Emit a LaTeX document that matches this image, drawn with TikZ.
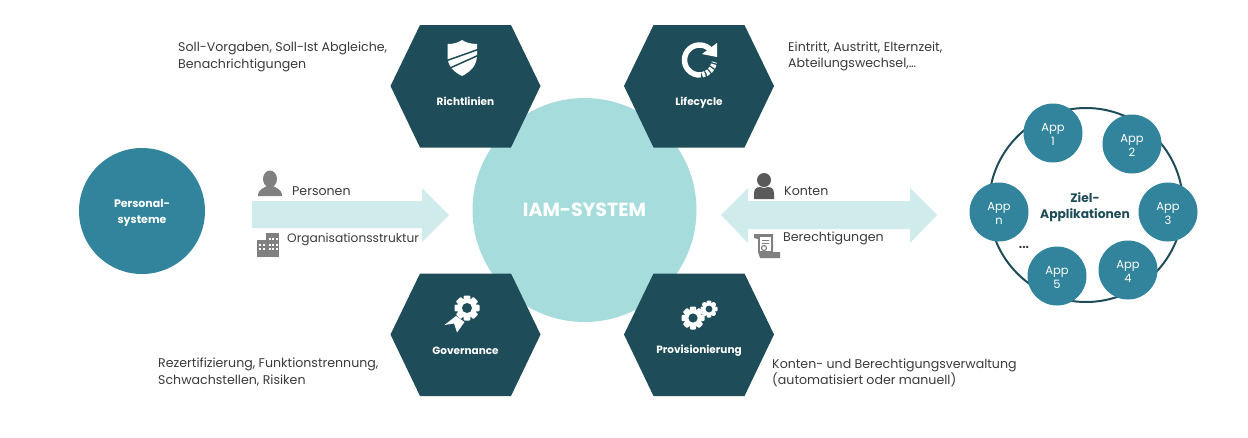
\documentclass[tikz,border=0pt]{standalone}
\usepackage{fontspec}
\setmainfont{Poppins}
\usetikzlibrary{positioning}
\definecolor{hexdark}{HTML}{1F4C59}
\definecolor{tealmid}{HTML}{31849C}
\definecolor{teallight}{HTML}{A6DDDC}
\definecolor{arrowlight}{HTML}{D0EBEC}
\definecolor{icongray}{HTML}{808080}
\definecolor{icondark}{HTML}{5A5A5A}
\definecolor{labelgray}{HTML}{3A3A3A}
\tikzset{
	hexlabel/.style={text=white,font=\fontsize{10.5}{12}\selectfont\bfseries},
	caption/.style={text=labelgray,anchor=west,align=left,inner sep=0pt,font=\fontsize{12.6}{16.2}\selectfont},
	appnode/.style={circle,fill=tealmid,minimum size=59pt,inner sep=0pt},
	applabel/.style={text=white,align=center,yshift=-1.5pt,font=\fontsize{11.5}{14}\selectfont}
}
\newcommand{\hexa}[2]{\fill[hexdark] (#1-75,#2) -- (#1-45.5,#2-61) -- (#1+45.5,#2-61) -- (#1+75,#2) -- (#1+45.5,#2+61.5) -- (#1-45.5,#2+61.5) -- cycle;}
\newcommand{\gear}[3]{
	\fill[white] (#1,#2) circle ({#3*0.78});
	\foreach \a in {0,45,...,315}
	\fill[white,rounded corners=1pt,shift={(#1,#2)},rotate=\a] (-#3*0.27,0) rectangle (#3*0.27,#3);
	\fill[hexdark] (#1,#2) circle ({#3*0.4});
}
\begin{document}
\begin{tikzpicture}[x=1pt,y=-1pt]
	\useasboundingbox (0,0) rectangle (1248,437);
	\fill[arrowlight] (252,201) -- (422,201) -- (422,188) -- (449,215) -- (422,242) -- (422,228) -- (252,228) -- cycle;
	\fill[arrowlight] (721,215) -- (748,188) -- (748,201) -- (910,201) -- (910,188) -- (937,215) -- (910,243) -- (910,229) -- (748,229) -- (748,243) -- cycle;
	\node[circle,fill=teallight,minimum size=224pt,inner sep=0pt,text=white,font=\fontsize{19}{22}\selectfont\bfseries] (iam) at (584.5,210) {IAM-SYSTEM};
	\node[circle,fill=tealmid,minimum size=126pt,inner sep=0pt,label={[text=white,align=center,yshift=-2pt,font=\fontsize{11}{16}\selectfont\bfseries]center:Personal-\\systeme}] (personal) at (142,211) {};
	\hexa{465.5}{86}
	\hexa{699}{86}
	\hexa{465.5}{334.5}
	\hexa{699}{334.5}
	\node[hexlabel] (richtlinien) at (465.5,101.5) {Richtlinien};
	\node[hexlabel] (lifecycle) at (699,102.5) {Lifecycle};
	\node[hexlabel] (governance) at (465.5,350.5) {Governance};
	\node[hexlabel] (provision) at (699,350.5) {Provisionierung};
	\fill[white] (447.5,44) .. controls (455,44) and (459,42) .. (462,40) .. controls (465,42) and (470,44) .. (477,44) -- (477,55) .. controls (477,66) and (470,72) .. (462,76) .. controls (454,72) and (447,66) .. (447.5,55) -- cycle;
	\draw[hexdark,line width=1.5pt] (447,60.5) -- (478,49.5) (450,68) -- (478,55.5);
	\draw[white,line width=5.5pt] (699.5,60)+(-40:15) arc (-40:-275:15);
	\draw[white,line width=5.5pt,dash pattern=on 3pt off 1.5pt] (699.5,60)+(-280:15) arc (-280:-352:15);
	\fill[white] (717,43) -- (717,57) -- (702,54) -- cycle;
	\gear{467}{308}{12.5}
	\fill[white] (444.5,325) -- (456,316) -- (464.5,322) -- (457,332.5) -- (454,323.5) -- cycle;
	\gear{693}{318}{11.5}
	\gear{709}{309}{8.5}
	\node[caption] (soll) at (178,57) {Soll-Vorgaben, Soll-Ist Abgleiche,\\Benachrichtigungen};
	\node[caption] (eintritt) at (788,56.5) {Eintritt, Austritt, Elternzeit,\\Abteilungswechsel,\dots};
	\node[caption] (rezert) at (158,372) {Rezertifizierung, Funktionstrennung,\\Schwachstellen, Risiken};
	\node[caption] (konten) at (772,373) {Konten- und Berechtigungsverwaltung\\(automatisiert oder manuell)};
	\node[caption] (personen) at (292,191) {Personen};
	\node[caption,font=\fontsize{12.2}{16}\selectfont] (orga) at (287,239) {Organisationsstruktur};
	\node[caption] (kontenlbl) at (784,191) {Konten};
	\node[caption] (rechte) at (783,238.5) {Berechtigungen};
	\fill[icongray] (270,179) ellipse (7 and 8.5);
	\fill[icongray] (258,196) .. controls (258,189) and (264,188) .. (267,186) -- (273,186) .. controls (276,188) and (282,189) .. (282,196) -- cycle;
	\fill[icongray] (257,240) rectangle (266,257);
	\fill[icongray] (266,233) rectangle (279,257);
	\foreach \wx in {259,262.5,268.5,272,275.5}
	\foreach \wy in {244,248}
	\fill[white] (\wx,\wy) rectangle +(2,2);
	\foreach \wx in {268.5,272,275.5}
	\fill[white] (\wx,238) rectangle +(2,2);
	\fill[icondark] (764,180) circle (7);
	\fill[icondark] (754,199) -- (754,193) .. controls (754,187) and (759,186) .. (764,188) .. controls (769,186) and (774,187) .. (774,193) -- (774,199) -- cycle;
	\fill[icongray] (754,234) -- (773,234) -- (773,252) -- (780,252) -- (780,258) -- (760,258) -- (758,252) -- (758,239) -- (754,238) -- cycle;
	\fill[white] (760,237) rectangle (771,251);
	\draw[icongray,line width=0.8pt] (762,240) -- (769,240) (762,243) -- (769,243);
	\draw[icongray,line width=1.2pt] (764,248) circle (2.5);
	\draw[hexdark,line width=2pt] (1086,205) circle (97);
	\node[appnode,label={[applabel]center:App\\1}] (app1) at (1053,133) {};
	\node[appnode,label={[applabel]center:App\\2}] (app2) at (1132,144) {};
	\node[appnode,label={[applabel]center:App\\3}] (app3) at (1168,212) {};
	\node[appnode,label={[applabel]center:App\\4}] (app4) at (1128,270) {};
	\node[appnode,label={[applabel]center:App\\5}] (app5) at (1057,276) {};
	\node[appnode,label={[applabel]center:App\\n}] (appn) at (999,212) {};
	\node[text=hexdark,align=center,font=\fontsize{12.3}{16}\selectfont\bfseries] (ziel) at (1085,207.5) {Ziel-\\Applikationen};
	\node[text=labelgray,font=\fontsize{12}{12}\selectfont\bfseries,inner sep=0pt] (dots) at (1024,247) {...};
\end{tikzpicture}
\end{document}
